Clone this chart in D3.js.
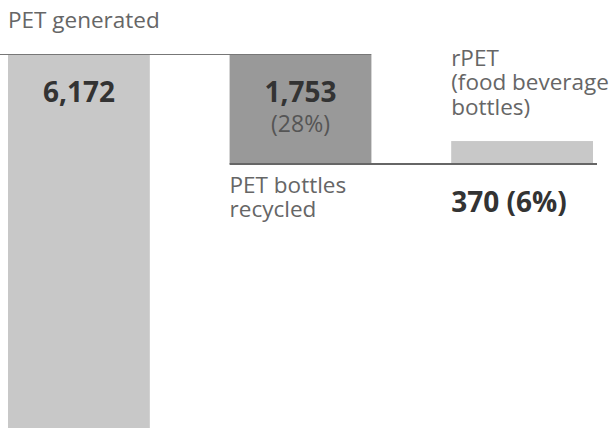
<!DOCTYPE html>
<html>
<head>
<meta charset="utf-8">
<script src="https://cdn.jsdelivr.net/npm/d3@7"></script>
<style>
  body { margin: 0; background: #fff; }
  svg { display: block; font-family: "Open Sans", sans-serif; }
</style>
</head>
<body>
<svg width="610" height="428"></svg>
<script>
// data (thousand tonnes)
var stages = ["generated", "recycled", "rpet"];
var values = [6172, 1753, 370];
var shares = [null, 28, 6];
var labels = [["PET generated"], ["PET bottles", "recycled"], ["rPET", "(food beverage", "bottles)"]];
var colors = ["#c8c8c8", "#999999", "#c8c8c8"];

var svg = d3.select("svg");
var top0 = 55;

// bars are placed with a band scale, lengths with a linear one
var x = d3.scaleBand()
    .domain(stages)
    .range([8, 593])
    .paddingInner(0.36)
    .paddingOuter(0);

var len = d3.scaleLinear()
    .domain([0, values[0]])
    .range([0, 384]);

// bottom of the recycled bar, the rPET bar stands on it
var base = top0 + len(values[1]);

function barTop(d, i) {
    return i == 2 ? base - len(d) : top0;
}

svg.selectAll("rect.bar")
    .data(values)
    .enter()
    .append("rect")
    .attr("class", "bar")
    .attr("x", function(d, i) { return x(stages[i]); })
    .attr("y", barTop)
    .attr("width", x.bandwidth())
    .attr("height", function(d) { return len(d); })
    .attr("fill", function(d, i) { return colors[i]; });

// reference lines
svg.append("line")
    .attr("x1", 0).attr("x2", x(stages[1]) + x.bandwidth())
    .attr("y1", top0 - 0.5).attr("y2", top0 - 0.5)
    .attr("stroke", "#777").attr("stroke-width", 1.2);

svg.append("line")
    .attr("x1", x(stages[1])).attr("x2", x(stages[2]) + x.bandwidth() + 4)
    .attr("y1", base).attr("y2", base)
    .attr("stroke", "#666").attr("stroke-width", 2);

// stage labels
var labelY = [28, 193, 66];
labels.forEach(function(lines, i) {
    var t = svg.append("text")
        .attr("x", x(stages[i]))
        .attr("y", labelY[i])
        .attr("fill", "#666")
        .style("font-size", "22.5px");
    lines.forEach(function(s, j) {
        t.append("tspan")
            .attr("x", x(stages[i]))
            .attr("dy", j == 0 ? 0 : 24.3)
            .text(s);
    });
});

var fmt = d3.format(",");

// value labels inside the first two bars
[0, 1].forEach(function(i) {
    var cx = x(stages[i]) + x.bandwidth() / 2;
    svg.append("text")
        .attr("x", cx).attr("y", 102)
        .attr("text-anchor", "middle")
        .attr("fill", "#333")
        .style("font-size", "28px").style("font-weight", "bold")
        .text(fmt(values[i]));
    if (shares[i] != null) {
        svg.append("text")
            .attr("x", cx).attr("y", 131.5)
            .attr("text-anchor", "middle")
            .attr("fill", "#555")
            .style("font-size", "23px")
            .text("(" + shares[i] + "%)");
    }
});

// rPET value under the line
svg.append("text")
    .attr("x", x(stages[2])).attr("y", 212)
    .attr("fill", "#333")
    .style("font-size", "28px").style("font-weight", "bold")
    .text(fmt(values[2]) + " (" + shares[2] + "%)");
</script>
</body>
</html>
